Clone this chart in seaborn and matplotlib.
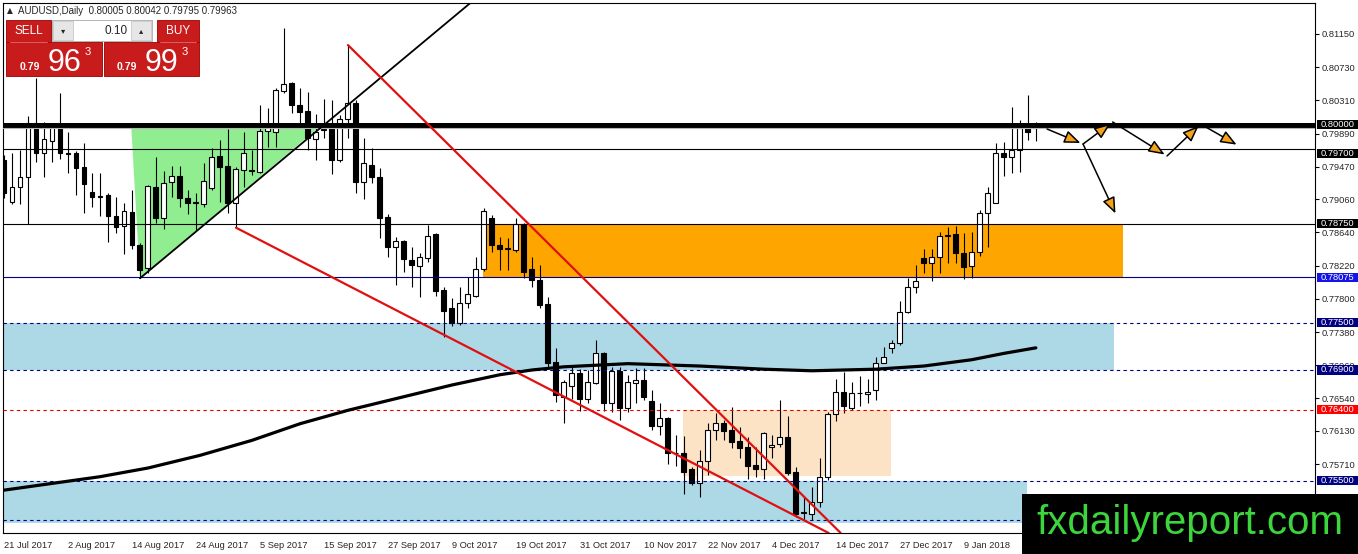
import numpy as np
import pandas as pd
import matplotlib
matplotlib.use("Agg")
import matplotlib.pyplot as plt
import matplotlib.transforms as mtransforms
from matplotlib.patches import Rectangle, Polygon, FancyArrowPatch
import seaborn as sns

# AUDUSD daily candles, 21 Jul 2017 .. 22 Jan 2018
opens = [0.7956, 0.7903, 0.7921, 0.7934, 0.8002, 0.7964, 0.7980, 0.7997, 0.7964, 0.7964,
         0.7947, 0.7915, 0.7910, 0.7911, 0.7885, 0.7872, 0.7890, 0.7848, 0.7819, 0.7921,
         0.7882, 0.7928, 0.7935, 0.7908, 0.7901, 0.7900, 0.7920, 0.7961, 0.7948, 0.7901,
         0.7943, 0.7943, 0.7940, 0.7992, 0.7991, 0.8043, 0.8053, 0.8025, 0.8018, 0.7982,
         0.7994, 0.7999, 0.7956, 0.8007, 0.8028, 0.7928, 0.7949, 0.7934, 0.7883, 0.7846,
         0.7853, 0.7829, 0.7822, 0.7832, 0.7862, 0.7791, 0.7768, 0.7749, 0.7775, 0.7784,
         0.7818, 0.7882, 0.7848, 0.7843, 0.7842, 0.7875, 0.7818, 0.7804, 0.7773, 0.7700,
         0.7656, 0.7670, 0.7686, 0.7653, 0.7673, 0.7711, 0.7648, 0.7689, 0.7642, 0.7673,
         0.7677, 0.7651, 0.7619, 0.7629, 0.7585, 0.7585, 0.7565, 0.7547, 0.7575, 0.7614,
         0.7623, 0.7614, 0.7600, 0.7593, 0.7570, 0.7565, 0.7593, 0.7596, 0.7605, 0.7561,
         0.7509, 0.7508, 0.7523, 0.7555, 0.7634, 0.7662, 0.7642, 0.7661, 0.7660, 0.7665,
         0.7699, 0.7718, 0.7724, 0.7763, 0.7795, 0.7832, 0.7825, 0.7833, 0.7860, 0.7862,
         0.7838, 0.7822, 0.7839, 0.7889, 0.7901, 0.7964, 0.7959, 0.7968, 0.7996, 0.80005]
highs = [0.7962, 0.7964, 0.7968, 0.8011, 0.8059, 0.8004, 0.8001, 0.8040, 0.7991, 0.7967,
         0.7977, 0.7939, 0.7939, 0.7914, 0.7909, 0.7901, 0.7918, 0.7851, 0.7924, 0.7959,
         0.7942, 0.7948, 0.7948, 0.7918, 0.7914, 0.7952, 0.7971, 0.7981, 0.7995, 0.7947,
         0.7991, 0.7968, 0.8025, 0.8021, 0.8047, 0.8123, 0.8054, 0.8047, 0.8042, 0.8014,
         0.8033, 0.8032, 0.8013, 0.8101, 0.8032, 0.7983, 0.7971, 0.7945, 0.7887, 0.7858,
         0.7854, 0.7846, 0.7838, 0.7873, 0.7863, 0.7795, 0.7781, 0.7795, 0.7808, 0.7833,
         0.7895, 0.7886, 0.7858, 0.7857, 0.7882, 0.7876, 0.7833, 0.7823, 0.7782, 0.7718,
         0.7677, 0.7694, 0.7691, 0.7690, 0.7728, 0.7713, 0.7694, 0.7694, 0.7684, 0.7692,
         0.7692, 0.7665, 0.7648, 0.7630, 0.7608, 0.7606, 0.7567, 0.7589, 0.7623, 0.7636,
         0.7627, 0.7643, 0.7618, 0.7605, 0.7593, 0.7611, 0.7608, 0.7652, 0.7632, 0.7567,
         0.7529, 0.7542, 0.7579, 0.7637, 0.7679, 0.7687, 0.7675, 0.7682, 0.7679, 0.7706,
         0.7719, 0.7728, 0.7777, 0.7806, 0.7823, 0.7843, 0.7843, 0.7865, 0.7871, 0.7872,
         0.7863, 0.7865, 0.7892, 0.7921, 0.7977, 0.7978, 0.8023, 0.8006, 0.8038, 0.80042]
lows = [0.7908, 0.7900, 0.7900, 0.7875, 0.7953, 0.7934, 0.7953, 0.7957, 0.7939, 0.7911,
        0.7889, 0.7896, 0.7885, 0.7852, 0.7863, 0.7837, 0.7843, 0.7806, 0.7813, 0.7876,
        0.7868, 0.7909, 0.7896, 0.7887, 0.7867, 0.7896, 0.7918, 0.7902, 0.7889, 0.7870,
        0.7921, 0.7937, 0.7939, 0.7972, 0.7972, 0.8040, 0.8015, 0.7996, 0.7968, 0.7956,
        0.7983, 0.7938, 0.7953, 0.7983, 0.7914, 0.7906, 0.7926, 0.7857, 0.7833, 0.7797,
        0.7814, 0.7795, 0.7782, 0.7827, 0.7784, 0.7732, 0.7746, 0.7747, 0.7768, 0.7782,
        0.7815, 0.7839, 0.7816, 0.7816, 0.7839, 0.7806, 0.7795, 0.7768, 0.7694, 0.7649,
        0.7623, 0.7653, 0.7638, 0.7648, 0.7672, 0.7638, 0.7637, 0.7627, 0.7637, 0.7648,
        0.7652, 0.7614, 0.7608, 0.7571, 0.7569, 0.7533, 0.7545, 0.7529, 0.7557, 0.7601,
        0.7601, 0.7591, 0.7579, 0.7552, 0.7555, 0.7552, 0.7579, 0.7593, 0.7557, 0.7504,
        0.7500, 0.7500, 0.7517, 0.7551, 0.7625, 0.7636, 0.7639, 0.7644, 0.7648, 0.7652,
        0.7699, 0.7711, 0.7722, 0.7762, 0.7787, 0.7813, 0.7803, 0.7813, 0.7825, 0.7825,
        0.7805, 0.7806, 0.7834, 0.7846, 0.7901, 0.7935, 0.7939, 0.7940, 0.7981, 0.79795]
closes = [0.7914, 0.7921, 0.7934, 0.8002, 0.7964, 0.7982, 0.7997, 0.7964, 0.7963, 0.7945,
          0.7925, 0.7909, 0.7909, 0.7885, 0.7871, 0.7891, 0.7848, 0.7816, 0.7923, 0.7882,
          0.7926, 0.7935, 0.7908, 0.7901, 0.7902, 0.7929, 0.7959, 0.7947, 0.7901, 0.7944,
          0.7964, 0.7942, 0.7992, 0.7997, 0.8044, 0.8052, 0.8025, 0.8016, 0.7983, 0.7991,
          0.7995, 0.7956, 0.8007, 0.8028, 0.7928, 0.7952, 0.7934, 0.7882, 0.7846, 0.7853,
          0.7830, 0.7823, 0.7833, 0.7860, 0.7790, 0.7764, 0.7749, 0.7775, 0.7786, 0.7818,
          0.7891, 0.7848, 0.7843, 0.7844, 0.7875, 0.7814, 0.7804, 0.7772, 0.7699, 0.7658,
          0.7675, 0.7686, 0.7653, 0.7675, 0.7711, 0.7648, 0.7689, 0.7642, 0.7675, 0.7677,
          0.7656, 0.7619, 0.7629, 0.7585, 0.7585, 0.7561, 0.7547, 0.7575, 0.7614, 0.7623,
          0.7613, 0.7599, 0.7591, 0.7569, 0.7565, 0.7610, 0.7595, 0.7605, 0.7560, 0.7508,
          0.7510, 0.7523, 0.7555, 0.7634, 0.7662, 0.7644, 0.7661, 0.7661, 0.7662, 0.7699,
          0.7706, 0.7724, 0.7763, 0.7795, 0.7803, 0.7825, 0.7833, 0.7860, 0.7860, 0.7838,
          0.7820, 0.7839, 0.7889, 0.7914, 0.7964, 0.7959, 0.7968, 0.7996, 0.7991, 0.79963]

# MetaTrader has no bars for 25 Dec and 1 Jan
dates = pd.bdate_range("2017-07-21", "2018-01-22")
dates = dates[~dates.isin(pd.to_datetime(["2017-12-25", "2018-01-01"]))]

# moving average, sampled along the thick black curve (bar index, price)
ma_bars = [0, 12, 18, 24.5, 31, 37, 43, 49.5, 56, 62, 66, 70, 78, 87, 95, 101, 109, 115, 121, 125, 129]
ma_vals = [0.7538, 0.7555, 0.7566, 0.7582, 0.7601, 0.7622, 0.7639, 0.7655, 0.7671, 0.7684, 0.7690,
           0.7694, 0.7698, 0.7695, 0.7691, 0.7689, 0.7691, 0.7695, 0.7703, 0.7711, 0.7718]

# horizontal levels and the price tags on the right
solid_levels = [0.7970, 0.7875]
blue_level = 0.78075
dashed_levels = [0.7750, 0.7690, 0.7550, 0.7500]
red_level = 0.7640
tag_prices = [0.8000, 0.7970, 0.7875, 0.78075, 0.7750, 0.7690, 0.7640, 0.7550]
tag_colors = ["black", "black", "black", "#1414E6", "#000080", "#000080", "#FF0000", "#000080"]
ytick_vals = [0.8115, 0.8073, 0.8031, 0.7989, 0.7947, 0.7906, 0.7864, 0.7822, 0.7780,
              0.7738, 0.7696, 0.7654, 0.7613, 0.7571, 0.7529]

# zones: (first bar, last bar, low price, high price)
orange_zone = (59.9, 139.9, 0.78075, 0.7875)
blue_zone_top = (-0.125, 138.75, 0.7690, 0.7750)
blue_zone_low = (-0.125, 127.9, 0.7496, 0.7550)
peach_zone = (84.9, 110.9, 0.7556, 0.7640)
green_tri_bars = [15.9, 17, 39.25]
green_tri_prices = [0.7999, 0.7806, 0.7996]

# trend lines (bar, price) end points
support_bars, support_prices = [17, 58.3], [0.7806, 0.81542]
red_upper_bars, red_upper_prices = [43, 104.6], [0.8101, 0.74838]
red_lower_bars, red_lower_prices = [29, 103.1], [0.7870, 0.74838]

# projected path arrows
path_bars = [130.4, 134.9, 138.6, 145.4, 149.6, 154.4]
path_prices = [0.79948, 0.79758, 0.80037, 0.79607, 0.80011, 0.79733]
drop_bar, drop_price = 139.1, 0.78848

header = "AUDUSD,Daily  0.80005 0.80042 0.79795 0.79963"

sns.set_style("white")
plt.rcParams["font.family"] = ["Liberation Sans", "DejaVu Sans"]

df = pd.DataFrame({"date": dates[:len(closes)], "open": opens, "high": highs,
                   "low": lows, "close": closes})
df["bar"] = np.arange(len(df))
up = df["close"] >= df["open"]
body = (df["close"] - df["open"]).abs().clip(lower=0.00002)
bottom = df[["open", "close"]].min(axis=1)

W, H = 1358, 554
fig = plt.figure(figsize=(W / 100, H / 100), dpi=100)
fig.patch.set_facecolor("white")
ax = fig.add_axes([3 / W, (H - 533) / H, 1312 / W, 530 / H])
ax.set_xlim(-0.125, 163.9)
ax.set_ylim(0.74838, 0.81542)

# zones
for (x0, x1, y0, y1), col in [(orange_zone, "#FFA500"), (blue_zone_top, "#ADD8E6"),
                              (blue_zone_low, "#ADD8E6"), (peach_zone, "#FDE3C6")]:
    ax.add_patch(Rectangle((x0, y0), x1 - x0, y1 - y0, color=col, lw=0, zorder=1))
ax.add_patch(Polygon(list(zip(green_tri_bars, green_tri_prices)), closed=True,
                     color="#90EE90", lw=0, zorder=1))

# candles
ax.vlines(df["bar"], df["low"], df["high"], color="black", lw=0.8, zorder=3)
ax.bar(df["bar"][up], body[up], bottom=bottom[up], width=0.62, color="white",
       edgecolor="black", lw=0.8, zorder=3.2)
ax.bar(df["bar"][~up], body[~up], bottom=bottom[~up], width=0.62, color="black",
       edgecolor="black", lw=0.8, zorder=3.2)

# levels
ax.axhline(0.8000, color="black", lw=3.6, zorder=4)
ax.axhline(closes[-1], color="#B4B4B4", lw=0.8, zorder=4)
for p in solid_levels:
    ax.axhline(p, color="black", lw=0.8, zorder=4)
ax.axhline(blue_level, color="#000080", lw=0.8, zorder=4)
for p in dashed_levels:
    ax.axhline(p, color="#000080", lw=0.8, ls=(0, (3, 3)), zorder=4)
ax.axhline(red_level, color="#E00000", lw=0.8, ls=(0, (3, 3)), zorder=4)

# moving average
sns.lineplot(x=ma_bars, y=ma_vals, ax=ax, color="black", lw=2.3, zorder=4.5)

# trend lines
ax.plot(support_bars, support_prices, color="black", lw=1.3, zorder=5)
ax.plot(red_upper_bars, red_upper_prices, color="#E01010", lw=1.6, zorder=5)
ax.plot(red_lower_bars, red_lower_prices, color="#E01010", lw=1.6, zorder=5)

# projected path
segs = list(zip(zip(path_bars[:-1], path_prices[:-1]), zip(path_bars[1:], path_prices[1:])))
segs.append(((path_bars[1], path_prices[1]), (drop_bar, drop_price)))
for a, b in segs:
    ax.add_patch(FancyArrowPatch(a, b, arrowstyle="-|>,head_length=0.75,head_width=0.3",
                                 mutation_scale=13, shrinkA=0, shrinkB=2, lw=1.1,
                                 edgecolor="black", facecolor="#F5A21B", zorder=6))

# axes look
for s in ax.spines.values():
    s.set_color("black")
    s.set_linewidth(0.8)
ax.set_xticks(df["bar"][::8])
ax.set_xticklabels([f"{d.day} {d.strftime('%b %Y')}" for d in df["date"][::8]], fontsize=6.7)
for lab in ax.get_xticklabels():
    lab.set_horizontalalignment("left")
ax.yaxis.tick_right()
ax.set_yticks(ytick_vals)
ax.set_yticklabels([f"{v:.5f}" for v in ytick_vals], fontsize=6.7)
ax.tick_params(axis="both", direction="out", length=3, width=0.8, color="black", pad=2)
ax.tick_params(axis="x", pad=3)
ax.set_xlabel("")
ax.set_ylabel("")
ax.grid(False)

# price tags on the right axis
tr = mtransforms.blended_transform_factory(ax.transAxes, ax.transData)
for p, col in zip(tag_prices, tag_colors):
    c = p - 0.00063 if p == 0.7970 else p
    ax.add_patch(Rectangle((1.0016, c - 0.00058), 0.0313, 0.00116, transform=tr,
                           color=col, lw=0, clip_on=False, zorder=10))
    ax.text(1.0045, c, f"{p:.5f}", transform=tr, color="white", fontsize=6.7,
            va="center", ha="left", clip_on=False, zorder=11)

# overlay in pixel units for the terminal widgets and the banner
ov = fig.add_axes([0, 0, 1, 1], zorder=10)
ov.set_xlim(0, W)
ov.set_ylim(H, 0)
ov.axis("off")
ov.patch.set_alpha(0)

ov.text(7, 11, "▲", fontsize=5.5, va="center", ha="left", family=["DejaVu Sans"])
ov.text(18, 11, header, fontsize=7, va="center", ha="left")

red, edge = "#C81C1C", "#9A0000"
for x0, y0, w, h in [(6, 20, 45, 22), (157, 20, 42, 22), (6, 42, 96, 34), (104, 42, 95, 34)]:
    ov.add_patch(Rectangle((x0, y0), w, h, facecolor=red, edgecolor=edge, lw=0.6))
ov.plot([10, 47], [41.5, 41.5], color="#E87070", lw=0.6)
ov.plot([160, 196], [41.5, 41.5], color="#E87070", lw=0.6)
ov.text(28.5, 31, "SELL", color="white", fontsize=8.5, ha="center", va="center")
ov.text(178, 31, "BUY", color="white", fontsize=8.5, ha="center", va="center")
ov.add_patch(Rectangle((52, 20), 100, 21, facecolor="white", edgecolor="#A8A8A8", lw=0.6))
ov.add_patch(Rectangle((53, 21), 20, 19, facecolor="#E6E6E6", edgecolor="#C0C0C0", lw=0.5))
ov.add_patch(Rectangle((131, 21), 20, 19, facecolor="#E6E6E6", edgecolor="#C0C0C0", lw=0.5))
ov.text(63, 31, "▾", fontsize=6, ha="center", va="center", family=["DejaVu Sans"])
ov.text(141, 31, "▴", fontsize=6, ha="center", va="center", family=["DejaVu Sans"])
ov.text(128, 31, "0.10", fontsize=8.5, ha="right", va="center")
for x0, big in [(20, "96"), (117, "99")]:
    ov.text(x0, 70, "0.79", color="white", fontsize=7.5, weight="bold", ha="left", va="baseline")
    ov.text(x0 + 28, 71, big, color="white", fontsize=22, ha="left", va="baseline")
    ov.text(x0 + 65, 55, "3", color="white", fontsize=8, ha="left", va="baseline")

ov.add_patch(Rectangle((1022, 494), 336, 60, color="black", lw=0))
ov.text(1190, 534, "fxdailyreport.com", color="#3CD63C", fontsize=29,
        ha="center", va="baseline")

fig.savefig("out.png", dpi=100)
